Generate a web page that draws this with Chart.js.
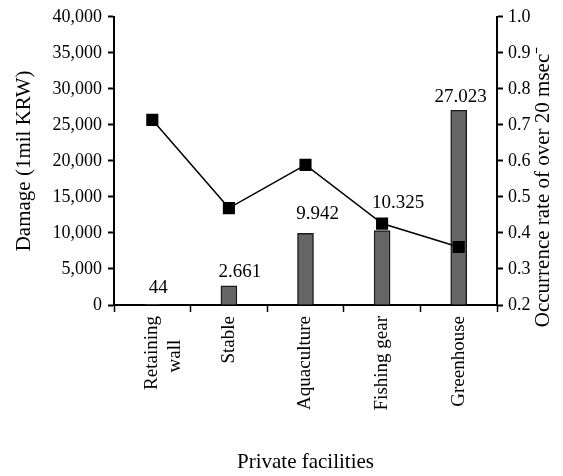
<!DOCTYPE html>
<html>
<head>
<meta charset="utf-8">
<script src="https://cdn.jsdelivr.net/npm/chart.js@4/dist/chart.umd.min.js"></script>
<style>
  html, body { margin: 0; padding: 0; background: #fff; }
  #wrap { width: 563px; height: 476px; }
</style>
</head>
<body>
<div id="wrap"><canvas id="plot"></canvas></div>
<script>
// data
const categories = [['Retaining', 'wall     '], 'Stable', 'Aquaculture', 'Fishing gear', 'Greenhouse'];
const damage = [44, 2661, 9942, 10325, 27023];
const damageText = ['44', '2.661', '9.942', '10.325', '27.023'];
const occurrence = [0.714, 0.469, 0.589, 0.426, 0.361];
const rightTitle = 'Occurrence rate of over 20 msec\u207B';

const serif = 'Liberation Serif, Times New Roman, serif';
Chart.defaults.font.family = serif;
Chart.defaults.color = '#000';

// where each value label sits relative to the top of its bar
const labelShift = [[6, 17], [11, 14], [12, 19], [16, 28], [2, 13]];

const valueLabels = {
  id: 'valueLabels',
  afterDatasetsDraw(chart) {
    const ctx = chart.ctx;
    const meta = chart.getDatasetMeta(1);
    ctx.save();
    ctx.font = '19px ' + serif;
    ctx.fillStyle = '#000';
    ctx.textAlign = 'center';
    ctx.textBaseline = 'middle';
    meta.data.forEach((bar, i) => {
      ctx.fillText(damageText[i], bar.x + labelShift[i][0], bar.y - labelShift[i][1]);
    });
    ctx.restore();
  }
};

// right axis title reads bottom to top, which chart.js does not do on its own
const rightAxisTitle = {
  id: 'rightAxisTitle',
  afterDraw(chart) {
    const ctx = chart.ctx;
    const s = chart.scales.y1;
    ctx.save();
    ctx.translate(s.right - 20, chart.chartArea.bottom - 118);
    ctx.rotate(-Math.PI / 2);
    ctx.font = '21px ' + serif;
    ctx.fillStyle = '#000';
    ctx.textAlign = 'center';
    ctx.textBaseline = 'middle';
    ctx.fillText(rightTitle, 0, 0);
    ctx.restore();
  }
};

const plot = document.getElementById('plot');
const grafico = new Chart(plot, {
  type: 'bar',
  data: {
    labels: categories,
    datasets: [
      {
        type: 'line',
        label: 'Occurrence rate',
        data: occurrence,
        yAxisID: 'y1',
        borderColor: '#000',
        borderWidth: 1.5,
        pointStyle: 'rect',
        pointRadius: 7.5,
        pointBackgroundColor: '#000',
        pointBorderColor: '#000',
        tension: 0,
        fill: false,
        order: 0
      },
      {
        type: 'bar',
        label: 'Damage',
        data: damage,
        yAxisID: 'y',
        backgroundColor: '#666666',
        borderColor: '#1a1a1a',
        borderWidth: 1.4,
        barThickness: 16,
        order: 1
      }
    ]
  },
  options: {
    responsive: true,
    maintainAspectRatio: false,
    animation: false,
    layout: { padding: { top: 16, left: 0, right: 0, bottom: 0 } },
    plugins: { legend: { display: false }, tooltip: { enabled: false } },
    scales: {
      x: {
        offset: true,
        grid: { offset: true, drawOnChartArea: false, color: '#000', tickLength: 7, tickWidth: 1.5 },
        border: { color: '#000', width: 2 },
        ticks: { font: { size: 19 }, minRotation: 90, maxRotation: 90, padding: 4 },
        title: { display: true, text: 'Private facilities', font: { size: 21 }, padding: { top: 1, bottom: 1 } },
        afterFit(scale) { scale.height = 171; }
      },
      y: {
        position: 'left',
        min: 0, max: 40000,
        grid: { drawOnChartArea: false, color: '#000', tickLength: 6, tickWidth: 2 },
        border: { color: '#000', width: 2 },
        ticks: { stepSize: 5000, font: { size: 18 }, padding: 6,
          callback: v => v.toLocaleString('en-US') },
        title: { display: true, text: 'Damage (1mil KRW)', font: { size: 21 }, padding: { top: 12, bottom: 0 } },
        afterFit(scale) { scale.width = 114; }
      },
      y1: {
        position: 'right',
        min: 0.2, max: 1.0,
        grid: { drawOnChartArea: false, color: '#000', tickLength: 6, tickWidth: 2 },
        border: { color: '#000', width: 2 },
        ticks: { stepSize: 0.1, font: { size: 18 }, padding: 5,
          callback: v => v.toFixed(1) },
        title: { display: false },
        afterFit(scale) { scale.width = 66; }
      }
    }
  },
  plugins: [valueLabels, rightAxisTitle]
});
</script>
</body>
</html>
